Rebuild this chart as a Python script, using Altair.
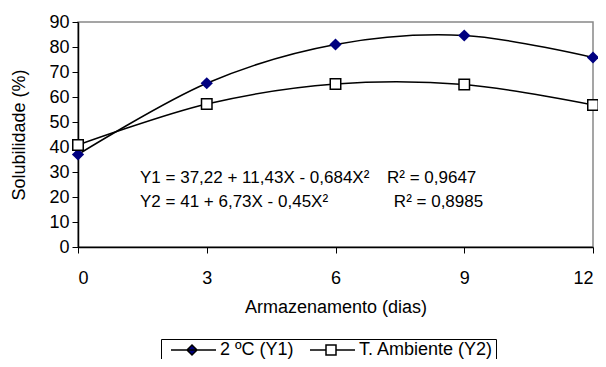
import altair as alt
import pandas as pd

# ---- data ----
dias = [0, 3, 6, 9, 12]
y1_2c = [37, 65.5, 81, 84.6, 75.8]
y2_amb = [40.8, 57.2, 65.2, 65, 56.8]
series = ["2 ºC (Y1)", "T. Ambiente (Y2)"]

eq_text = ["Y1 = 37,22 + 11,43X - 0,684X²", "R² = 0,9647",
           "Y2 = 41 + 6,73X - 0,45X²", "R² = 0,8985"]
eq_x = [1.445, 7.20, 1.445, 7.36]
eq_y = [25.6, 25.6, 16.0, 16.0]

FONT = "Liberation Sans"

df = pd.DataFrame({
    "x": dias * 2,
    "y": y1_2c + y2_amb,
    "serie": [series[0]] * len(dias) + [series[1]] * len(dias),
})
ann = pd.DataFrame({"t": eq_text, "x": eq_x, "y": eq_y})

xs = alt.Scale(domain=[0, 12], nice=False, zero=False)
ys = alt.Scale(domain=[0, 90], nice=False)

xaxis = alt.Axis(values=dias, title="Armazenamento (dias)", grid=False,
                 labelPadding=16, titlePadding=11, labelOverlap=False)
yaxis = alt.Axis(values=list(range(0, 91, 10)), title="Solubilidade (%)",
                 grid=False, labelPadding=3, titlePadding=20, labelOverlap=False,
                 labelFlush=False)

X = alt.X("x:Q", scale=xs, axis=xaxis)
Y = alt.Y("y:Q", scale=ys, axis=yaxis)

base = alt.Chart(df)

lines = base.mark_line(interpolate="cardinal", color="black", strokeWidth=1.5).encode(
    x=X, y=Y, detail="serie:N",
)

p1 = base.transform_filter(alt.datum.serie == series[0]).mark_point(
    shape="diamond", filled=True, fill="#000080", size=150, opacity=1, strokeWidth=0
).encode(x=X, y=Y)

p2 = base.transform_filter(alt.datum.serie == series[1]).mark_point(
    shape="square", filled=True, fill="white", stroke="black", strokeWidth=1.5,
    size=110, opacity=1
).encode(x=X, y=Y)

# legend-only layer (no rows drawn) with line+marker symbols
# unit = 5 px (symbolSize 100); nominal symbol box is [-1, 1]
diamond_sym = "M-0.2,0H8.8M4,-1L5,0L4,1L3,0Z"
square_sym = "M-0.2,0H3M5,0H8.8M3,-1H5V1H3Z"
leg = base.transform_filter("false").mark_point(filled=False, opacity=1, strokeWidth=1.5).encode(
    x=X, y=Y,
    shape=alt.Shape("serie:N", scale=alt.Scale(domain=series, range=[diamond_sym, square_sym]),
                    legend=alt.Legend(title=None, orient="none", direction="horizontal",
                                      legendX=83, legendY=317, strokeColor="black",
                                      padding=2, symbolSize=100, labelFont=FONT,
                                      labelFontSize=18, labelColor="black", labelOffset=39,
                                      columnPadding=8, cornerRadius=0, fillColor="white",
                                      symbolStrokeWidth=1.5, symbolOpacity=1)),
    fill=alt.Fill("serie:N", scale=alt.Scale(domain=series, range=["#000080", "white"]),
                  legend=None),
    stroke=alt.Stroke("serie:N", scale=alt.Scale(domain=series, range=["black", "black"]),
                      legend=None),
)

text = alt.Chart(ann).mark_text(align="left", baseline="alphabetic", font=FONT,
                                fontSize=17, color="black").encode(
    x=X, y=Y, text="t:N")

chart = alt.layer(lines, p1, p2, leg, text).properties(
    width=515, height=225,
    autosize=alt.AutoSizeParams(type="none"),
    padding={"left": 70, "top": 14, "right": 5, "bottom": 112},
).configure_view(stroke="#888888", strokeWidth=1.5).configure_axis(
    labelFont=FONT, labelFontSize=18, labelColor="black", titleFont=FONT,
    titleFontSize=18, titleFontWeight="normal", titleColor="black",
    domainColor="black", domainWidth=1.5, tickColor="black", tickSize=6,
)

chart.save("out.html", embed_options={"renderer": "svg", "actions": False})
